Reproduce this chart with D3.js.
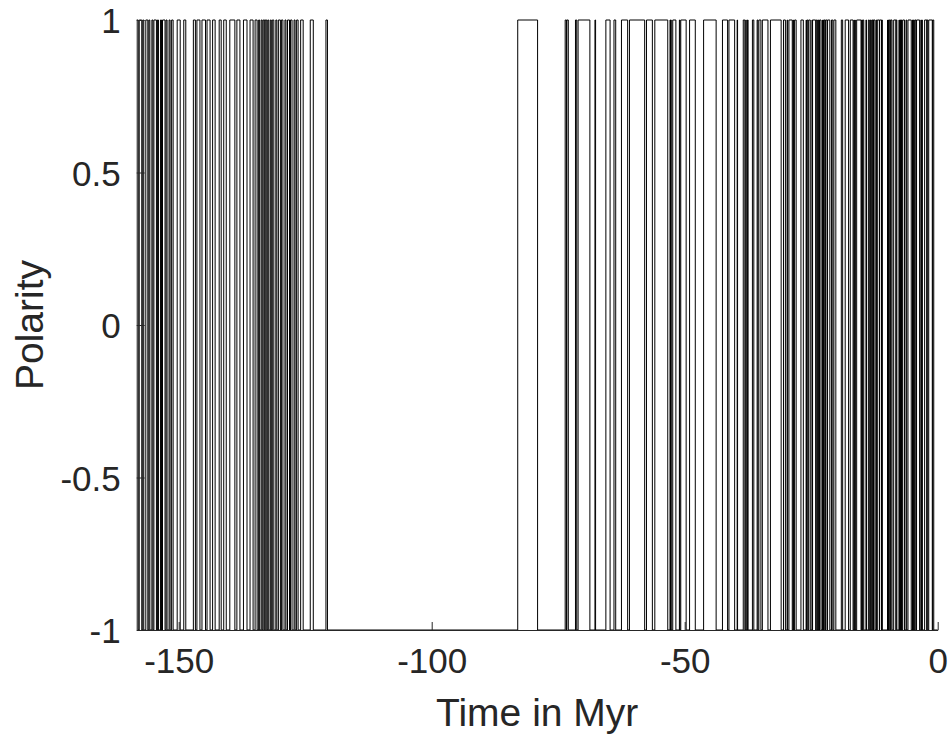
<!DOCTYPE html>
<html>
<head>
<meta charset="utf-8">
<script src="https://cdn.jsdelivr.net/npm/d3@7"></script>
<style>
  body { margin: 0; background: #fff; }
  svg { display: block; font-family: "Liberation Sans", Arial, Helvetica, sans-serif; }
</style>
</head>
<body>
<svg width="949" height="736"></svg>
<script>
// Normal polarity intervals 0-83 Myr (young, old), plotted as -1.
var ckNormal = [
  [0.000, 0.780], [0.990, 1.070], [1.770, 1.950], [2.140, 2.150], [2.581, 3.040],
  [3.110, 3.220], [3.330, 3.580], [4.180, 4.290], [4.480, 4.620], [4.800, 4.890],
  [4.980, 5.230], [5.875, 6.122], [6.256, 6.555], [6.919, 7.072], [7.135, 7.170],
  [7.341, 7.375], [7.432, 7.562], [7.650, 8.072], [8.225, 8.257], [8.699, 9.025],
  [9.230, 9.308], [9.580, 9.642], [9.740, 9.880], [9.920, 10.949], [11.052, 11.099],
  [11.476, 11.531], [11.935, 12.078], [12.184, 12.401], [12.678, 12.708], [12.775, 12.819],
  [12.991, 13.139], [13.302, 13.510], [13.703, 14.076], [14.178, 14.612], [14.800, 14.888],
  [15.034, 15.155], [16.014, 16.293], [16.327, 16.488], [16.556, 16.726], [17.277, 17.615],
  [18.281, 18.781], [19.048, 20.131], [20.518, 20.725], [20.996, 21.320], [21.768, 21.859],
  [22.151, 22.248], [22.459, 22.493], [22.588, 22.750], [22.804, 23.069], [23.353, 23.535],
  [23.677, 23.800], [23.999, 24.118], [24.730, 24.781], [24.835, 25.183], [25.496, 25.648],
  [25.823, 25.951], [25.992, 26.554], [27.027, 27.972], [28.283, 28.512], [28.578, 28.745],
  [29.401, 29.662], [29.765, 30.098], [30.479, 30.939], [33.058, 33.545], [34.655, 34.940],
  [35.343, 35.526], [35.685, 36.341], [36.618, 37.473], [37.604, 37.848], [37.920, 38.113],
  [38.426, 39.552], [39.631, 40.130], [41.257, 41.521], [42.536, 43.789], [46.264, 47.906],
  [49.037, 49.714], [50.778, 50.946], [51.047, 51.743], [52.364, 52.663], [52.757, 52.801],
  [52.903, 53.347], [55.904, 56.391], [57.554, 57.911], [60.920, 61.276], [62.499, 63.634],
  [63.976, 64.745], [65.578, 67.610], [67.735, 68.737], [71.071, 71.338], [71.587, 73.004],
  [73.291, 73.374], [73.619, 79.075]
];

// Long normal interval (flat -1 stretch in the middle).
var superchron = [83.0, 120.6];

// Older reversal boundaries (Myr before present).
var mBounds = [
  120.9, 123.4, 124.0, 125.4, 125.9,
  126.4, 126.7, 127.0, 127.2, 127.6, 127.9, 128.1, 128.5, 128.8, 129.0,
  129.4, 129.7, 129.9, 130.3, 130.6, 130.8, 131.2,
  131.5, 131.7, 131.9, 132.2, 132.4, 132.6, 132.9, 133.0, 133.3, 133.5,
  133.7, 134.0, 134.2, 134.5,
  134.9, 135.3, 135.9, 136.5, 137.2, 137.9, 138.5, 138.9, 139.9, 140.6,
  141.1, 141.6, 142.0, 142.8, 143.3, 143.8, 144.4, 144.7, 145.4, 145.8,
  146.4, 146.7, 147.1, 148.6, 149.0, 149.7, 150.3, 151.1,
  151.4, 151.7, 151.9, 152.3, 152.5, 152.7, 153.2, 153.4, 153.6, 154.0,
  154.2, 154.4, 154.9, 155.1, 155.3, 155.7, 155.9, 156.1, 156.5, 156.9,
  157.1, 157.3, 157.8, 158.0
];
var dataStart = 158.3;

var xTicks = [-150, -100, -50, 0];
var xTickLabels = ["-150", "-100", "-50", "0"];
var yTicks = [-1, -0.5, 0, 0.5, 1];
var yTickLabels = ["-1", "-0.5", "0", "0.5", "1"];

var axisColor = "#262626";
var svg = d3.select("svg");

var x = d3.scaleLinear().domain([-dataStart, 0]).range([136.7, 937.7]);
var y = d3.scaleLinear().domain([-1, 1]).range([630, 20]);

// Build the list of boundaries (ages, ascending), polarity alternates between them.
var bounds = [];
ckNormal.forEach(function (d, i) {
    if (i > 0) bounds.push(d[0]);
    bounds.push(d[1]);
});
bounds.push(superchron[0]);
bounds.push(superchron[1]);
mBounds.forEach(function (b) { bounds.push(b); });
bounds.push(dataStart);

// Interval k spans [bounds[k-1], bounds[k]], k even -> normal (-1).
var pts = [];
for (var k = bounds.length - 1; k >= 0; k--) {
    var pol = (k % 2 === 0) ? -1 : 1;
    pts.push({ t: -bounds[k], p: pol });
}
pts.push({ t: 0, p: -1 });

var line = d3.line()
    .x(function (d) { return x(d.t); })
    .y(function (d) { return y(d.p); })
    .curve(d3.curveStepAfter);

svg.append("path")
    .datum(pts)
    .attr("d", line)
    .attr("fill", "none")
    .attr("stroke", "#000")
    .attr("stroke-width", 1);

// Axes: only left and bottom lines, ticks pointing inward.
var tickLen = 8;
var xAxis = d3.axisBottom(x).tickValues(xTicks).tickSizeInner(-tickLen).tickSizeOuter(0)
    .tickPadding(18).tickFormat(function (d, i) { return xTickLabels[i]; });
var gx = svg.append("g").attr("transform", "translate(0," + y(-1) + ")").call(xAxis);

var yAxis = d3.axisLeft(y).tickValues(yTicks).tickSizeInner(-tickLen).tickSizeOuter(0)
    .tickPadding(16).tickFormat(function (d, i) { return yTickLabels[i]; });
var gy = svg.append("g").attr("transform", "translate(" + x(-dataStart) + ",0)").call(yAxis);

[gx, gy].forEach(function (g) {
    g.select(".domain").attr("stroke", axisColor).attr("stroke-width", 1);
    g.selectAll(".tick line").attr("stroke", axisColor).attr("stroke-width", 1);
    g.selectAll(".tick text")
        .attr("fill", axisColor)
        .style("font-size", "35px")
        .style("font-family", "'Liberation Sans', Arial, Helvetica, sans-serif");
});
gx.selectAll(".tick text").attr("dy", "0.71em");
gy.selectAll(".tick text").attr("dy", "0.36em");

svg.append("text")
    .attr("x", (x(-dataStart) + x(0)) / 2)
    .attr("y", 726)
    .attr("text-anchor", "middle")
    .attr("fill", axisColor)
    .style("font-size", "39px")
    .text("Time in Myr");

svg.append("text")
    .attr("transform", "translate(43," + y(0) + ") rotate(-90)")
    .attr("text-anchor", "middle")
    .attr("fill", axisColor)
    .style("font-size", "39px")
    .text("Polarity");
</script>
</body>
</html>
